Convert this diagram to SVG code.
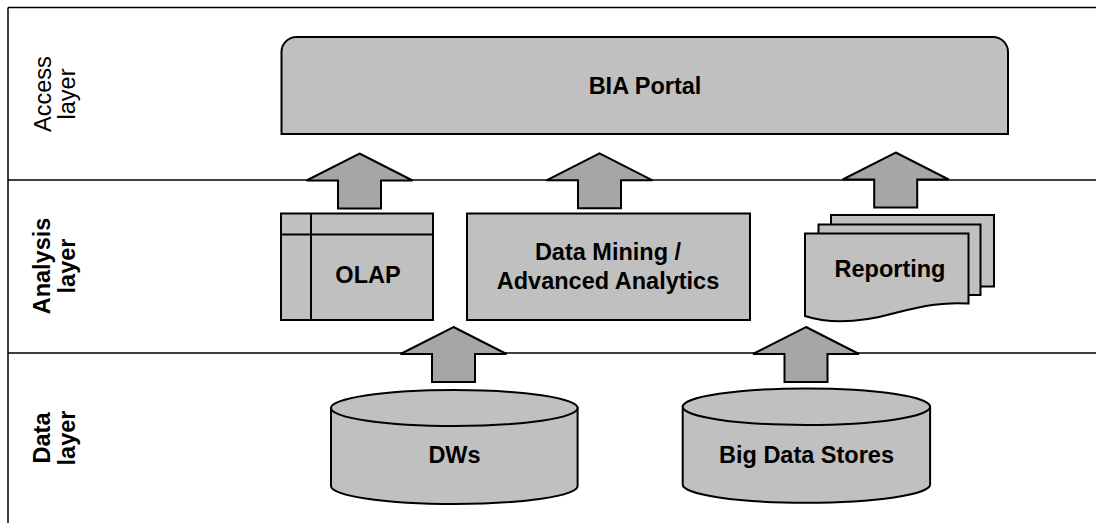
<svg xmlns="http://www.w3.org/2000/svg" xmlns:xlink="http://www.w3.org/1999/xlink" width="1096" height="523" viewBox="0 0 1096 523">
<style>
  .frame { stroke: #000; stroke-width: 1.5; fill: none; }
  .shape { fill: #c0c0c0; stroke: #000; stroke-width: 2; stroke-linejoin: miter; }
  .inner { fill: none; stroke: #000; stroke-width: 2; }
  .arrow { fill: #a6a6a6; stroke: #000; stroke-width: 2; stroke-linejoin: miter; }
  .lbl { font-family: "Liberation Sans", Arial, sans-serif; font-size: 23.5px; font-weight: bold; fill: #000; text-anchor: middle; }
  .layer { font-family: "Liberation Sans", Arial, sans-serif; font-size: 23.5px; fill: #000; text-anchor: middle; }
  .layerb { font-family: "Liberation Sans", Arial, sans-serif; font-size: 23.5px; font-weight: bold; fill: #000; text-anchor: middle; }
</style>
<defs>
  <path id="up" d="M0,0 L53,27 L21.5,27 L21.5,55 L-21.5,55 L-21.5,27 L-53,27 Z"/>
</defs>
<rect width="1096" height="523" fill="#fff"/>

<g id="frame">
  <line class="frame" x1="8" y1="7.5" x2="1096" y2="7.5"/>
  <line class="frame" x1="8" y1="7.5" x2="8" y2="523"/>
  <line class="frame" x1="8" y1="180" x2="1096" y2="180"/>
  <line class="frame" x1="8" y1="353" x2="1096" y2="353"/>
</g>

<g id="layer-labels">
  <g id="access-layer">
    <text class="layer" transform="translate(51,94) rotate(-90)">Access</text>
    <text class="layer" transform="translate(75,94) rotate(-90)">layer</text>
  </g>
  <g id="analysis-layer">
    <text class="layerb" transform="translate(50,266) rotate(-90)">Analysis</text>
    <text class="layerb" transform="translate(75,266) rotate(-90)">layer</text>
  </g>
  <g id="data-layer">
    <text class="layerb" transform="translate(50,438) rotate(-90)">Data</text>
    <text class="layerb" transform="translate(75,438) rotate(-90)">layer</text>
  </g>
</g>

<g id="bia-portal">
  <path class="shape" d="M281.5,134 V52 A15,15 0 0 1 296.5,37 H993 A15,15 0 0 1 1008,52 V134 Z"/>
  <text class="lbl" x="645" y="94">BIA Portal</text>
</g>

<g id="olap">
  <rect class="shape" x="281" y="213.5" width="152" height="106.5"/>
  <line class="inner" x1="311" y1="213.5" x2="311" y2="320"/>
  <line class="inner" x1="281" y1="234.5" x2="433" y2="234.5"/>
  <text class="lbl" x="368" y="283">OLAP</text>
</g>

<g id="data-mining">
  <rect class="shape" x="467" y="213.5" width="283" height="106.5"/>
  <text class="lbl" x="608" y="260">Data Mining /</text>
  <text class="lbl" x="608" y="289">Advanced Analytics</text>
</g>

<g id="reporting">
  <rect class="shape" x="831" y="215" width="163" height="71.5"/>
  <rect class="shape" x="818.5" y="224.5" width="162" height="70.5"/>
  <path class="shape" d="M805,233.5 H968.5 V303.5 C945,302 925,305 895,313 C870,320 835,326 805,316 Z"/>
  <text class="lbl" x="890" y="277">Reporting</text>
</g>

<g id="dws">
  <path class="shape" d="M331,408 V486 A123.3,18 0 0 0 577.6,486 V408 Z"/>
  <ellipse class="shape" cx="454.3" cy="408" rx="123.3" ry="18"/>
  <text class="lbl" x="454.5" y="463">DWs</text>
</g>

<g id="big-data-stores">
  <path class="shape" d="M682.7,406.7 V484.5 A123.7,18.3 0 0 0 930.1,484.5 V406.7 Z"/>
  <ellipse class="shape" cx="806.4" cy="406.7" rx="123.7" ry="18.3"/>
  <text class="lbl" x="806.5" y="463">Big Data Stores</text>
</g>

<g id="connectors">
  <use xlink:href="#up" class="arrow" transform="translate(359.5,153.5)"/>
  <use xlink:href="#up" class="arrow" transform="translate(599.5,153.3)"/>
  <use xlink:href="#up" class="arrow" transform="translate(895.7,152.5)"/>
  <use xlink:href="#up" class="arrow" transform="translate(453.5,327)"/>
  <use xlink:href="#up" class="arrow" transform="translate(806,327)"/>
</g>
</svg>
